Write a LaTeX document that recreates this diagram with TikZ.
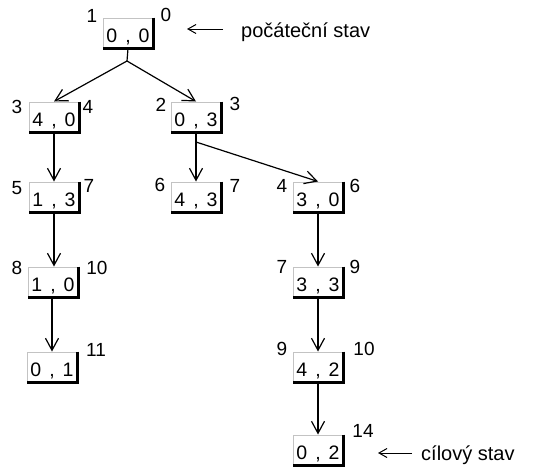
\documentclass[tikz,border=0pt]{standalone}
\usepackage{fontspec}
\setmainfont{Liberation Sans}
\usetikzlibrary{arrows.meta}
\definecolor{boxgray}{RGB}{195,195,195}
\newcommand\pairtxt[2]{#1\hspace{8pt},\hspace{8pt}#2}
\tikzset{
  statebox/.style={draw=boxgray, line width=1pt, fill=white, minimum width=50pt,
    minimum height=30pt, inner sep=0pt, text height=18pt, text depth=0pt,
    font=\fontsize{19.5}{20}\selectfont},
  num/.style={inner sep=0pt, text height=14pt, text depth=0pt,
    font=\fontsize{19}{20}\selectfont},
  conn/.style={line width=1.2pt, -{Straight Barb[length=12pt,width=13pt,line width=1.2pt]}},
  plainline/.style={line width=1.2pt},
  note/.style={anchor=base west, inner sep=0pt, font=\fontsize{20}{22}\selectfont},
  ptr/.style={line width=1pt, -{Straight Barb[length=8pt,width=9pt,line width=1pt]}},
  edgeblack/.style={line width=2.6pt}
}
\begin{document}
\begin{tikzpicture}[x=1pt,y=-1pt]
\useasboundingbox (0,0) rectangle (535,466);
% state boxes
\node[statebox] (n00) at (128,33)  {\pairtxt{0}{0}};
\node[statebox] (n40) at (54,117)  {\pairtxt{4}{0}};
\node[statebox] (n03) at (196,117) {\pairtxt{0}{3}};
\node[statebox] (n13) at (54,197)  {\pairtxt{1}{3}};
\node[statebox] (n43) at (196,197) {\pairtxt{4}{3}};
\node[statebox] (n30) at (318,197) {\pairtxt{3}{0}};
\node[statebox] (n10) at (53,282)  {\pairtxt{1}{0}};
\node[statebox] (n33) at (318,282) {\pairtxt{3}{3}};
\node[statebox] (n01) at (52,367)  {\pairtxt{0}{1}};
\node[statebox] (n42) at (318,367) {\pairtxt{4}{2}};
\node[statebox] (n02) at (318,450) {\pairtxt{0}{2}};
\foreach \n in {n00,n40,n03,n13,n43,n30,n10,n33,n01,n42,n02}
  \draw[edgeblack] (\n.north east) -- (\n.south east) -- (\n.south west);
% numbers
\node[num] (l00a) at (92,15)  {1};  \node[num] (l00b) at (166,14) {0};
\node[num] (l40a) at (17,106) {3};  \node[num] (l40b) at (88,106) {4};
\node[num] (l03a) at (161,104) {2}; \node[num] (l03b) at (235,103) {3};
\node[num] (l13a) at (17,187) {5};  \node[num] (l13b) at (89,185) {7};
\node[num] (l43a) at (160,184) {6}; \node[num] (l43b) at (235,185) {7};
\node[num] (l30a) at (282,185) {4}; \node[num] (l30b) at (355,185) {6};
\node[num] (l10a) at (17,267) {8};  \node[num] (l10b) at (97,267) {10};
\node[num] (l33a) at (282,266) {7}; \node[num] (l33b) at (355,266) {9};
\node[num] (l01b) at (96,349) {11};
\node[num] (l42a) at (282,348) {9}; \node[num] (l42b) at (364,348) {10};
\node[num] (l02b) at (363,430) {14};
% connectors
\coordinate (f0) at (127,61);
\draw[plainline] (n00.south) -- (f0);
\draw[conn] (f0) -- (n40.north);
\draw[conn] (f0) -- (n03.north);
\draw[conn] (n40.south) -- (n13.north);
\draw[conn] (n03.south) -- (n43.north);
\coordinate (f1) at (196,142);
\draw[conn] (f1) -- (n30.north);
\draw[conn] (n13.south) -- (n13.south |- n10.north);
\draw[conn] (n10.south -| n01.north) -- (n01.north);
\draw[conn] (n30.south) -- (n33.north);
\draw[conn] (n33.south) -- (n42.north);
\draw[conn] (n42.south) -- (n02.north);
% notes
\node[note] (t1) at (241,37) {počáteční stav};
\coordinate (p1s) at (223,29);
\coordinate (p1e) at (187,29);
\draw[ptr] (p1s) -- (p1e);
\node[note] (t2) at (421,460) {cílový stav};
\coordinate (p2s) at (412,453);
\coordinate (p2e) at (378,453);
\draw[ptr] (p2s) -- (p2e);
\end{tikzpicture}
\end{document}
